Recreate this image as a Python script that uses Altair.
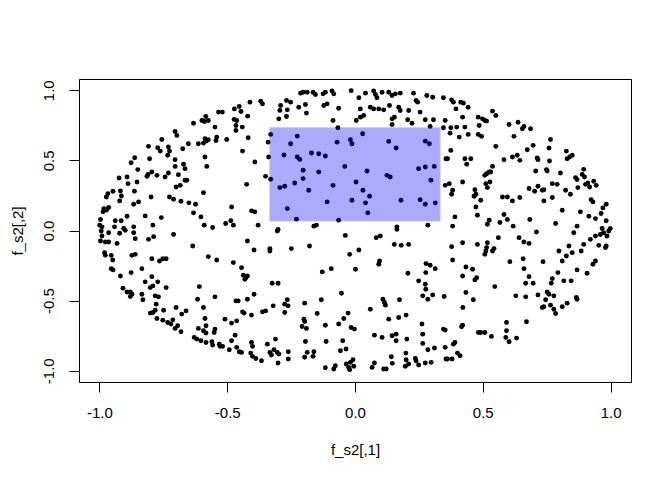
import altair as alt
import pandas as pd

# points, grouped by region of the plot (x, y)
upper_left = [
    (-0.411, 0.915), (-0.369, 0.922), (-0.362, 0.903), (-0.472, 0.867), (-0.453, 0.884),
    (-0.446, 0.848), (-0.420, 0.815), (-0.534, 0.844), (-0.519, 0.844), (-0.584, 0.813),
    (-0.599, 0.784), (-0.589, 0.777), (-0.574, 0.784), (-0.632, 0.765), (-0.473, 0.792),
    (-0.463, 0.784), (-0.466, 0.749), (-0.441, 0.737), (-0.466, 0.713), (-0.548, 0.737),
    (-0.704, 0.706), (-0.697, 0.678), (-0.756, 0.649), (-0.652, 0.618), (-0.613, 0.618),
    (-0.593, 0.623), (-0.587, 0.654), (-0.574, 0.647), (-0.583, 0.637), (-0.541, 0.666),
    (-0.544, 0.642), (-0.502, 0.649), (-0.418, 0.661), (-0.808, 0.600), (-0.772, 0.590),
    (-0.762, 0.566), (-0.730, 0.595), (-0.726, 0.566), (-0.733, 0.536), (-0.674, 0.583),
    (-0.440, 0.566), (-0.862, 0.519), (-0.876, 0.483), (-0.804, 0.512), (-0.704, 0.505),
    (-0.587, 0.524), (-0.580, 0.457), (-0.392, 0.488), (-0.850, 0.434), (-0.795, 0.417),
    (-0.704, 0.457), (-0.671, 0.472), (-0.665, 0.441), (-0.730, 0.410), (-0.814, 0.386),
    (-0.810, 0.400), (-0.775, 0.393), (-0.691, 0.398), (-0.743, 0.381), (-0.923, 0.374),
    (-0.892, 0.381), (-0.888, 0.334), (-0.853, 0.346), (-0.665, 0.358), (-0.658, 0.358),
    (-0.684, 0.322), (-0.700, 0.310), (-0.424, 0.329), (-0.947, 0.280), (-0.967, 0.263),
    (-0.973, 0.239), (-0.918, 0.282), (-0.914, 0.246), (-0.921, 0.211), (-0.863, 0.280),
    (-0.798, 0.239), (-0.726, 0.239), (-0.710, 0.223), (-0.681, 0.208), (-0.650, 0.197),
    (-0.624, 0.187), (-0.593, 0.270), (-0.866, 0.187), (-0.847, 0.204), (-0.983, 0.156),
    (-0.986, 0.133), (-0.973, 0.145), (-0.964, 0.164), (-0.483, 0.168), (-0.405, 0.140),
    (-0.392, 0.133), (-0.821, 0.104), (-0.758, 0.092), (-0.632, 0.126), (-0.603, 0.097),
    (-0.996, 0.078), (-0.999, 0.038), (-0.990, 0.026), (-0.938, 0.069), (-0.915, 0.069),
    (-0.892, 0.102), (-0.941, 0.026), (-0.905, 0.014), (-0.866, 0.026), (-0.791, 0.038),
    (-0.590, 0.038), (-0.557, 0.021), (-0.506, 0.050), (-0.486, 0.069), (-0.476, 0.038),
    (-0.379, 0.038),
]

upper_mid = [
    (-0.213, 0.979), (-0.203, 0.986), (-0.187, 0.986), (-0.164, 0.986), (-0.155, 0.969),
    (-0.125, 0.974), (-0.116, 0.986), (-0.090, 0.995), (-0.083, 0.974), (-0.015, 0.997),
    (0.015, 0.946), (0.041, 0.979), (0.073, 0.995), (0.080, 0.969), (0.086, 0.946),
    (0.106, 0.986), (0.132, 0.986), (0.145, 0.962), (0.158, 0.974), (0.177, 0.979),
    (0.229, 0.979), (0.239, 0.927), (0.245, 0.915), (0.281, 0.962), (0.304, 0.950),
    (0.346, 0.946), (-0.291, 0.891), (-0.268, 0.927), (-0.252, 0.915), (-0.294, 0.856),
    (-0.265, 0.860), (-0.220, 0.879), (-0.194, 0.898), (-0.122, 0.891), (-0.109, 0.903),
    (-0.064, 0.872), (0.021, 0.867), (0.060, 0.879), (0.073, 0.867), (0.093, 0.867),
    (0.112, 0.860), (0.135, 0.891), (0.171, 0.879), (0.177, 0.855), (0.210, 0.855),
    (0.255, 0.844), (-0.298, 0.796), (-0.268, 0.813), (-0.190, 0.837), (-0.086, 0.784),
    (0.005, 0.784), (0.021, 0.808), (0.034, 0.820), (0.145, 0.796), (0.154, 0.808),
    (0.145, 0.756), (0.206, 0.789), (0.223, 0.765), (0.275, 0.789), (0.307, 0.789),
    (0.353, 0.784), (-0.067, 0.732), (0.346, 0.732), (0.294, 0.742), (-0.330, 0.685),
    (-0.226, 0.673), (-0.252, 0.618), (-0.340, 0.630), (-0.070, 0.630), (-0.018, 0.647),
    (-0.012, 0.618), (0.030, 0.690), (0.132, 0.635), (0.161, 0.588), (0.275, 0.637),
    (0.291, 0.618), (-0.338, 0.524), (-0.278, 0.538), (-0.226, 0.524), (-0.216, 0.507),
    (-0.170, 0.552), (-0.142, 0.547), (-0.116, 0.531), (-0.040, 0.457), (-0.203, 0.429),
    (-0.203, 0.370), (-0.142, 0.417), (0.047, 0.424), (0.125, 0.393), (0.138, 0.381),
    (0.249, 0.441), (0.275, 0.453), (0.310, 0.457), (0.356, 0.512), (-0.350, 0.386),
    (-0.330, 0.365), (-0.294, 0.306), (-0.275, 0.315), (-0.236, 0.339), (-0.181, 0.287),
    (-0.086, 0.322), (0.004, 0.346), (0.031, 0.287), (0.057, 0.244), (0.041, 0.197),
    (-0.012, 0.216), (-0.109, 0.204), (-0.265, 0.156), (0.180, 0.216), (0.255, 0.220),
    (0.275, 0.187), (0.314, 0.197), (0.297, 0.358), (0.353, 0.322), (0.050, 0.126),
    (-0.229, 0.081), (-0.064, 0.073), (-0.161, 0.031), (-0.151, 0.038), (-0.301, 0.007),
    (0.164, 0.026), (0.285, 0.038),
]

upper_right = [
    (0.378, 0.931), (0.385, 0.915), (0.414, 0.915), (0.424, 0.908), (0.395, 0.867),
    (0.443, 0.879), (0.421, 0.808), (0.482, 0.808), (0.499, 0.796), (0.508, 0.784),
    (0.515, 0.780), (0.538, 0.851), (0.551, 0.820), (0.375, 0.732), (0.398, 0.737),
    (0.430, 0.737), (0.372, 0.694), (0.408, 0.666), (0.443, 0.685), (0.482, 0.685),
    (0.495, 0.671), (0.486, 0.749), (0.603, 0.756), (0.638, 0.772), (0.655, 0.725),
    (0.661, 0.742), (0.687, 0.725), (0.622, 0.671), (0.551, 0.600), (0.375, 0.571),
    (0.674, 0.576), (0.697, 0.607), (0.759, 0.588), (0.765, 0.649), (0.362, 0.512),
    (0.430, 0.512), (0.453, 0.512), (0.437, 0.472), (0.616, 0.524), (0.635, 0.536),
    (0.645, 0.500), (0.583, 0.505), (0.713, 0.517), (0.716, 0.505), (0.761, 0.495),
    (0.827, 0.566), (0.830, 0.512), (0.840, 0.524), (0.850, 0.536), (0.538, 0.457),
    (0.525, 0.417), (0.515, 0.405), (0.508, 0.393), (0.531, 0.417), (0.707, 0.424),
    (0.752, 0.424), (0.749, 0.434), (0.804, 0.410), (0.895, 0.436), (0.889, 0.400),
    (0.863, 0.377), (0.869, 0.363), (0.898, 0.381), (0.872, 0.306), (0.902, 0.329),
    (0.911, 0.339), (0.934, 0.351), (0.944, 0.322), (0.918, 0.310), (0.369, 0.334),
    (0.421, 0.346), (0.512, 0.334), (0.528, 0.346), (0.518, 0.306), (0.382, 0.287),
    (0.378, 0.258), (0.469, 0.291), (0.473, 0.258), (0.466, 0.244), (0.492, 0.216),
    (0.681, 0.299), (0.703, 0.280), (0.716, 0.315), (0.739, 0.291), (0.733, 0.287),
    (0.772, 0.334), (0.791, 0.329), (0.824, 0.287), (0.843, 0.258), (0.577, 0.239),
    (0.596, 0.239), (0.616, 0.211), (0.645, 0.235), (0.739, 0.211), (0.772, 0.235),
    (0.924, 0.220), (0.931, 0.204), (0.983, 0.187), (0.970, 0.161), (0.811, 0.144),
    (0.882, 0.133), (0.915, 0.102), (0.941, 0.085), (0.963, 0.121), (0.983, 0.069),
    (0.967, 0.014), (0.999, 0.014), (0.473, 0.168), (0.479, 0.109), (0.391, 0.097),
    (0.525, 0.073), (0.518, 0.045), (0.567, 0.057), (0.583, 0.114), (0.596, 0.078),
    (0.619, 0.031), (0.684, 0.078), (0.785, 0.050), (0.869, 0.031), (0.382, 0.031),
]

lower_left = [
    (-0.993, -0.004), (-0.964, -0.016), (-0.990, -0.039), (-0.996, -0.075), (-0.977, -0.082),
    (-0.964, -0.082), (-0.931, -0.092), (-0.921, -0.020), (-0.899, 0.001), (-0.866, -0.016),
    (-0.860, -0.058), (-0.808, -0.063), (-0.788, -0.044), (-0.710, -0.028), (-0.980, -0.158),
    (-0.977, -0.177), (-0.954, -0.177), (-0.948, -0.210), (-0.873, -0.177), (-0.860, -0.170),
    (-0.795, -0.201), (-0.765, -0.217), (-0.752, -0.201), (-0.739, -0.201), (-0.954, -0.272),
    (-0.947, -0.281), (-0.918, -0.324), (-0.876, -0.300), (-0.834, -0.272), (-0.635, -0.111),
    (-0.574, -0.186), (-0.541, -0.210), (-0.476, -0.229), (-0.444, -0.265), (-0.437, -0.319),
    (-0.427, -0.336), (-0.421, -0.324), (-0.431, -0.348), (-0.421, -0.075), (-0.395, -0.139),
    (-0.908, -0.411), (-0.892, -0.438), (-0.879, -0.438), (-0.873, -0.454), (-0.879, -0.471),
    (-0.834, -0.454), (-0.830, -0.494), (-0.821, -0.366), (-0.795, -0.329), (-0.801, -0.407),
    (-0.791, -0.395), (-0.772, -0.366), (-0.739, -0.407), (-0.782, -0.466), (-0.769, -0.473),
    (-0.778, -0.525), (-0.801, -0.589), (-0.791, -0.585), (-0.782, -0.568), (-0.749, -0.568),
    (-0.775, -0.627), (-0.752, -0.639), (-0.733, -0.656), (-0.720, -0.667), (-0.713, -0.637),
    (-0.704, -0.698), (-0.694, -0.679), (-0.681, -0.722), (-0.700, -0.549), (-0.678, -0.596),
    (-0.661, -0.573), (-0.609, -0.400), (-0.616, -0.490), (-0.593, -0.549), (-0.548, -0.473),
    (-0.587, -0.627), (-0.509, -0.632), (-0.483, -0.660), (-0.463, -0.644), (-0.466, -0.502),
    (-0.457, -0.502), (-0.421, -0.490), (-0.395, -0.454), (-0.440, -0.580), (-0.434, -0.589),
    (-0.405, -0.603), (-0.362, -0.580), (-0.613, -0.698), (-0.593, -0.715), (-0.583, -0.679),
    (-0.583, -0.731), (-0.548, -0.703), (-0.551, -0.727), (-0.629, -0.762), (-0.619, -0.774),
    (-0.603, -0.786), (-0.583, -0.798), (-0.560, -0.793), (-0.557, -0.817), (-0.531, -0.810),
    (-0.528, -0.826), (-0.518, -0.826), (-0.483, -0.786), (-0.469, -0.746), (-0.492, -0.850),
    (-0.463, -0.833), (-0.453, -0.864), (-0.444, -0.869), (-0.405, -0.798), (-0.401, -0.826),
    (-0.408, -0.874), (-0.401, -0.897), (-0.388, -0.912), (-0.366, -0.928),
]

lower_mid = [
    (-0.304, -0.004), (-0.038, -0.035), (0.083, -0.051), (0.099, -0.039), (0.164, 0.008),
    (-0.333, -0.129), (-0.333, -0.146), (-0.249, -0.129), (-0.178, -0.111), (-0.021, -0.170),
    (0.015, -0.139), (0.154, -0.099), (0.181, -0.106), (0.210, -0.099), (-0.128, -0.295),
    (-0.093, -0.272), (0.002, -0.276), (0.096, -0.217), (0.093, -0.241), (0.207, -0.305),
    (0.278, -0.236), (0.294, -0.248), (0.314, -0.272), (0.277, -0.300), (-0.324, -0.376),
    (-0.301, -0.376), (-0.053, -0.447), (0.249, -0.359), (0.275, -0.383), (0.277, -0.419),
    (0.265, -0.466), (0.285, -0.490), (0.304, -0.459), (0.349, -0.471), (-0.350, -0.573),
    (-0.320, -0.537), (-0.275, -0.525), (-0.265, -0.494), (-0.262, -0.537), (-0.275, -0.585),
    (-0.197, -0.518), (-0.132, -0.494), (-0.148, -0.592), (-0.200, -0.632), (-0.197, -0.649),
    (-0.207, -0.684), (-0.190, -0.698), (-0.116, -0.675), (-0.064, -0.667), (-0.044, -0.627),
    (-0.027, -0.589), (-0.015, -0.691), (-0.002, -0.703), (0.060, -0.561), (0.109, -0.490),
    (0.115, -0.513), (0.119, -0.532), (0.174, -0.494), (0.132, -0.632), (0.171, -0.620),
    (0.200, -0.603), (-0.343, -0.810), (-0.311, -0.774), (-0.333, -0.869), (-0.327, -0.888),
    (-0.317, -0.850), (-0.304, -0.869), (-0.298, -0.881), (-0.301, -0.945), (-0.261, -0.864),
    (-0.261, -0.916), (-0.194, -0.791), (-0.187, -0.869), (-0.197, -0.904), (-0.161, -0.864),
    (-0.164, -0.897), (-0.113, -0.791), (-0.048, -0.786), (-0.057, -0.857), (-0.035, -0.845),
    (0.076, -0.746), (0.106, -0.762), (0.145, -0.750), (0.161, -0.739), (0.161, -0.786),
    (0.203, -0.774), (0.262, -0.667), (0.265, -0.739), (0.265, -0.805), (0.285, -0.850),
    (0.311, -0.838), (0.346, -0.703), (0.353, -0.710), (0.353, -0.833), (0.356, -0.916),
    (-0.116, -0.978), (-0.083, -0.987), (-0.077, -0.964), (-0.034, -0.952), (-0.025, -0.976),
    (-0.018, -0.940), (-0.008, -0.921), (-0.021, -0.992), (-0.005, -0.968), (0.067, -0.976),
    (0.076, -0.945), (0.112, -0.987), (0.122, -0.987), (0.142, -0.900), (0.146, -0.947),
    (0.199, -0.874), (0.200, -0.921), (0.197, -0.968), (0.210, -0.952), (0.236, -0.912),
    (0.239, -0.928), (0.249, -0.959), (0.275, -0.945), (0.298, -0.940),
]

lower_right = [
    (0.710, -0.011), (0.856, -0.016), (0.960, -0.028), (0.973, -0.016), (0.993, -0.004),
    (0.986, -0.039), (0.983, -0.111), (0.980, -0.122), (0.941, -0.039), (0.921, -0.063),
    (0.895, -0.099), (0.954, -0.106), (0.378, -0.115), (0.421, -0.087), (0.479, -0.099),
    (0.518, -0.087), (0.515, -0.122), (0.508, -0.170), (0.512, -0.146), (0.538, -0.146),
    (0.544, -0.129), (0.561, -0.051), (0.642, -0.051), (0.661, -0.082), (0.681, -0.092),
    (0.382, -0.210), (0.606, -0.222), (0.658, -0.201), (0.736, -0.222), (0.798, -0.146),
    (0.837, -0.111), (0.850, -0.158), (0.827, -0.182), (0.811, -0.217), (0.885, -0.146),
    (0.434, -0.260), (0.460, -0.276), (0.421, -0.324), (0.476, -0.336), (0.469, -0.352),
    (0.547, -0.400), (0.661, -0.272), (0.681, -0.329), (0.668, -0.376), (0.697, -0.376),
    (0.794, -0.300), (0.772, -0.343), (0.768, -0.376), (0.817, -0.359), (0.846, -0.359),
    (0.869, -0.281), (0.908, -0.305), (0.931, -0.241), (0.941, -0.217), (0.434, -0.442),
    (0.463, -0.494), (0.422, -0.549), (0.629, -0.466), (0.668, -0.473), (0.716, -0.459),
    (0.752, -0.438), (0.759, -0.454), (0.778, -0.466), (0.746, -0.494), (0.765, -0.532),
    (0.739, -0.544), (0.733, -0.549), (0.778, -0.561), (0.785, -0.592), (0.811, -0.544),
    (0.830, -0.518), (0.866, -0.478), (0.869, -0.490), (0.421, -0.675), (0.417, -0.686),
    (0.593, -0.656), (0.671, -0.651), (0.593, -0.715), (0.483, -0.727), (0.492, -0.727),
    (0.508, -0.727), (0.534, -0.755), (0.590, -0.762), (0.603, -0.793), (0.632, -0.767),
    (0.391, -0.798), (0.385, -0.810), (0.401, -0.874), (0.411, -0.893), (0.380, -0.916),
    (0.362, -0.916),
]

# shaded region
rect_x = [-1 / 3, 1 / 3]
rect_y = [0.067, 0.733]

tick_values = [-1.0, -0.5, 0.0, 0.5, 1.0]

pts = pd.DataFrame(
    upper_left + upper_mid + upper_right + lower_left + lower_mid + lower_right,
    columns=["x", "y"],
)
box = pd.DataFrame({"x": [rect_x[0]], "x2": [rect_x[1]], "y": [rect_y[0]], "y2": [rect_y[1]]})

FONT = "Liberation Sans"
label_expr = "datum.value < 0 ? '-' + format(-datum.value, '.1f') : format(datum.value, '.1f')"

xs = alt.Scale(domain=[-1.08, 1.08], nice=False, zero=False)
ys = alt.Scale(domain=[-1.08, 1.08], nice=False, zero=False)

x_axis = alt.Axis(
    values=tick_values, labelExpr=label_expr, grid=False, domain=False,
    tickSize=10, tickColor="black", labelFont=FONT, labelFontSize=15,
    labelColor="black", labelBaseline="alphabetic", labelPadding=25,
    title="f_s2[,1]", titleFont=FONT, titleFontSize=15, titleFontWeight="normal",
    titleColor="black", titleX=276, titleY=72, titleBaseline="alphabetic",
    titleAlign="center",
)
y_axis = alt.Axis(
    values=tick_values, labelExpr=label_expr, grid=False, domain=False,
    tickSize=10, tickColor="black", labelFont=FONT, labelFontSize=15,
    labelColor="black", labelAngle=270, labelAlign="center",
    labelBaseline="alphabetic", labelPadding=16,
    title="f_s2[,2]", titleFont=FONT, titleFontSize=15, titleFontWeight="normal",
    titleColor="black", titleAngle=270, titleX=-57, titleY=151.5,
    titleBaseline="alphabetic", titleAlign="center",
)

points = alt.Chart(pts).mark_circle(size=24, color="black", opacity=1).encode(
    x=alt.X("x:Q", scale=xs, axis=x_axis),
    y=alt.Y("y:Q", scale=ys, axis=y_axis),
)

shade = alt.Chart(box).mark_rect(
    color="#0000ff", opacity=0.33, stroke="#50508a", strokeWidth=1, strokeOpacity=0.8
).encode(
    x=alt.X("x:Q", scale=xs),
    x2="x2:Q",
    y=alt.Y("y:Q", scale=ys),
    y2="y2:Q",
)

chart = (
    alt.layer(points, shade)
    .properties(
        width=552,
        height=303,
        autosize=alt.AutoSizeParams(type="none"),
        padding={"left": 71, "top": 71, "right": 33, "bottom": 90},
        background="white",
    )
    .configure_view(stroke="black", strokeWidth=1)
)

chart.save("out.html", embed_options={"renderer": "svg", "actions": False})
